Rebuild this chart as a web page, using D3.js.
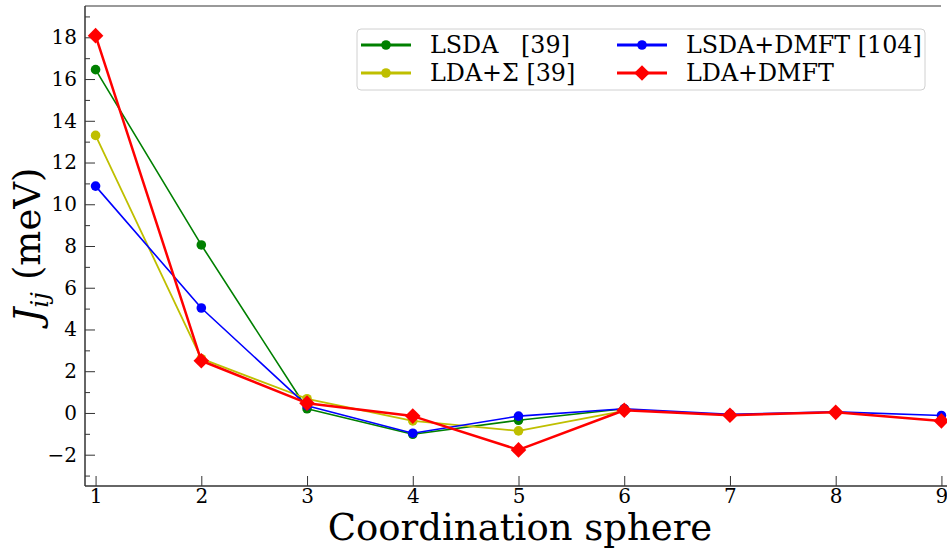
<!DOCTYPE html>
<html>
<head>
<meta charset="utf-8">
<script src="https://cdn.jsdelivr.net/npm/d3@7"></script>
<style>
  body { margin: 0; background: #fff; }
  svg { display: block; font-family: "DejaVu Serif", serif; }
</style>
</head>
<body>
<div id="chart"></div>
<script>
// coordination sphere index
const spheres = [1, 2, 3, 4, 5, 6, 7, 8, 9];

// J_ij values (meV)
const lsda = [16.45, 8.05, 0.2, -1.02, -0.35, 0.2];
const ldaSigma = [13.3, 2.6, 0.68, -0.38, -0.86, 0.1];
const lsdaDmft = [10.87, 5.03, 0.35, -0.97, -0.15, 0.2, -0.06, 0.05, -0.12];
const ldaDmft = [18.08, 2.5, 0.47, -0.15, -1.77, 0.13, -0.11, 0.03, -0.38];

const yMajor = [-2, 0, 2, 4, 6, 8, 10, 12, 14, 16, 18];
const yMinor = [-3, -1, 1, 3, 5, 7, 9, 11, 13, 15, 17, 19];

const series = [
  { name: "LSDA   [39]", vals: lsda, color: "#008000", width: 1.6, marker: "circle" },
  { name: "LDA+\u03A3 [39]", vals: ldaSigma, color: "#bfbf00", width: 1.8, marker: "circle" },
  { name: "LSDA+DMFT [104]", vals: lsdaDmft, color: "#0000ff", width: 1.6, marker: "circle" },
  { name: "LDA+DMFT", vals: ldaDmft, color: "#ff0000", width: 2.5, marker: "diamond" }
];

const width = 947, height = 550;
const plotLeft = 85, plotTop = 6, plotBottom = 486;

const svg = d3.select("#chart").append("svg")
  .attr("width", width)
  .attr("height", height);

const x = d3.scaleLinear().domain([0.9, 9.1]).range([plotLeft, 952]);
const y = d3.scaleLinear().domain([-3.5, 19.5]).range([plotBottom, plotTop]);

// y axis, ticks pointing inward
const yAxis = svg.append("g")
  .attr("transform", `translate(${plotLeft},0)`)
  .call(d3.axisLeft(y).tickValues(yMajor).tickSize(-10).tickPadding(8));
yAxis.select(".domain").remove();
yAxis.selectAll("line").attr("stroke", "#333");
yAxis.selectAll("text").attr("font-size", 20).attr("font-family", "DejaVu Serif").attr("fill", "#000");

const yMinorAxis = svg.append("g")
  .attr("transform", `translate(${plotLeft},0)`)
  .call(d3.axisLeft(y).tickValues(yMinor).tickSize(-5).tickFormat(""));
yMinorAxis.select(".domain").remove();
yMinorAxis.selectAll("line").attr("stroke", "#333");

// x axis
const xAxis = svg.append("g")
  .attr("transform", `translate(0,${plotBottom})`)
  .call(d3.axisBottom(x).tickValues(spheres).tickSize(-10).tickPadding(3).tickFormat(d3.format("d")));
xAxis.select(".domain").remove();
xAxis.selectAll("line").attr("stroke", "#333");
xAxis.selectAll("text").attr("font-size", 20).attr("font-family", "DejaVu Serif").attr("fill", "#000");

// spines
svg.append("line").attr("x1", plotLeft).attr("x2", 941).attr("y1", plotTop).attr("y2", plotTop)
  .attr("stroke", "#777").attr("stroke-width", 1.5);
svg.append("line").attr("x1", plotLeft).attr("x2", plotLeft).attr("y1", plotTop).attr("y2", plotBottom)
  .attr("stroke", "#333").attr("stroke-width", 1.5);
svg.append("line").attr("x1", plotLeft).attr("x2", width).attr("y1", plotBottom).attr("y2", plotBottom)
  .attr("stroke", "#333").attr("stroke-width", 1.5);

// lines + markers
const line = d3.line().x((d, i) => x(spheres[i])).y(d => y(d));
const diamond = d3.symbol().type(d3.symbolSquare).size(2 * 7.8 * 7.8);

series.forEach(s => {
  const g = svg.append("g");
  g.append("path")
    .datum(s.vals)
    .attr("d", line)
    .attr("fill", "none")
    .attr("stroke", s.color)
    .attr("stroke-width", s.width)
    .attr("stroke-linejoin", "round");
  if (s.marker === "circle") {
    g.selectAll("circle").data(s.vals).enter().append("circle")
      .attr("cx", (d, i) => x(spheres[i]))
      .attr("cy", d => y(d))
      .attr("r", 4.8)
      .attr("fill", s.color);
  } else {
    g.selectAll("path.m").data(s.vals).enter().append("path")
      .attr("class", "m")
      .attr("d", diamond)
      .attr("transform", (d, i) => `translate(${x(spheres[i])},${y(d)}) rotate(45)`)
      .attr("fill", s.color);
  }
});

// legend
const legend = svg.append("g");
legend.append("rect")
  .attr("x", 357).attr("y", 29).attr("width", 568).attr("height", 61)
  .attr("rx", 4)
  .attr("fill", "#fff").attr("fill-opacity", 0.85)
  .attr("stroke", "#d0d0d0");

const legendPos = [[361, 45], [361, 73], [617, 45], [617, 73]];
series.forEach((s, i) => {
  const [lx, ly] = legendPos[i];
  const item = legend.append("g").attr("transform", `translate(${lx},${ly})`);
  item.append("line").attr("x1", 0).attr("x2", 50).attr("y1", 0).attr("y2", 0)
    .attr("stroke", s.color).attr("stroke-width", 3);
  if (s.marker === "circle") {
    item.append("circle").attr("cx", 25).attr("cy", 0).attr("r", 4.8).attr("fill", s.color);
  } else {
    item.append("path").attr("d", diamond).attr("transform", "translate(25,0) rotate(45)").attr("fill", s.color);
  }
  item.append("text")
    .attr("x", 69).attr("y", 0).attr("dy", "0.35em")
    .attr("font-size", 23.8)
    .style("white-space", "pre")
    .attr("fill", "#000")
    .text(s.name);
});

// axis labels
svg.append("text")
  .attr("x", 520).attr("y", 540)
  .attr("text-anchor", "middle")
  .attr("font-size", 37)
  .attr("fill", "#000")
  .text("Coordination sphere");

const yl = svg.append("text")
  .attr("transform", "translate(40,245) rotate(-90)")
  .attr("text-anchor", "middle")
  .attr("font-size", 37)
  .attr("fill", "#000");
yl.append("tspan").attr("font-style", "italic").text("J");
yl.append("tspan").attr("font-style", "italic").attr("font-size", 25).attr("dy", 8).text("ij");
yl.append("tspan").attr("dy", -8).text(" (meV)");
</script>
</body>
</html>
